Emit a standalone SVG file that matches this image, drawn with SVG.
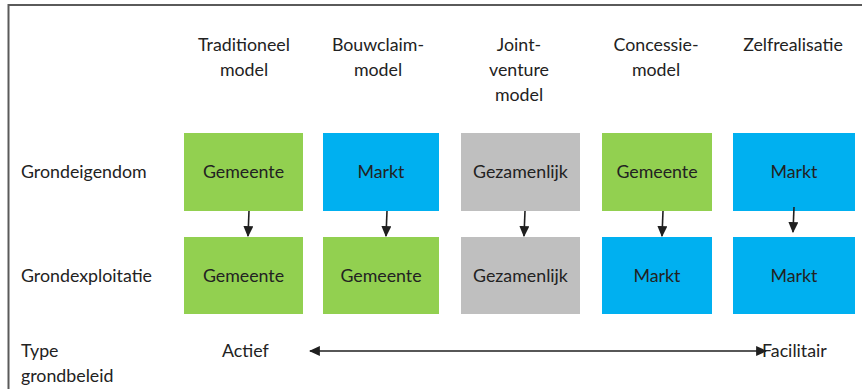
<svg xmlns="http://www.w3.org/2000/svg" width="862" height="389" viewBox="0 0 862 389">
  <style>
    text { font-family: Lato, "Liberation Sans", sans-serif; font-size: 17.8px; fill: #222222; }
    .c { text-anchor: middle; }
    .green { fill: #92D050; }
    .blue { fill: #00B0F0; }
    .grey { fill: #BFBFBF; }
    .link { stroke: #1f1f1f; stroke-width: 1.6; fill: none; }
    .frame { stroke: #5a5a5a; stroke-width: 2; fill: none; }
  </style>
  <defs>
    <marker id="head" viewBox="0 0 10 10" refX="9" refY="5" markerWidth="11" markerHeight="10" markerUnits="userSpaceOnUse" orient="auto-start-reverse" preserveAspectRatio="none">
      <path d="M0,0 L10,5 L0,10 Z" fill="#1f1f1f"/>
    </marker>
  </defs>

  <rect width="862" height="389" fill="#ffffff"/>
  <path class="frame" d="M8.5,389 V5 H862"/>

  <!-- column headings -->
  <g id="headings">
    <text class="c" x="244" y="51">Traditioneel</text>
    <text class="c" x="244" y="76">model</text>
    <text class="c" x="378" y="51">Bouwclaim-</text>
    <text class="c" x="378" y="76">model</text>
    <text class="c" x="519" y="51">Joint-</text>
    <text class="c" x="519" y="76">venture</text>
    <text class="c" x="519" y="101">model</text>
    <text class="c" x="656" y="51">Concessie-</text>
    <text class="c" x="656" y="76">model</text>
    <text class="c" x="793" y="51">Zelfrealisatie</text>
  </g>

  <!-- row labels -->
  <g id="row-labels">
    <text x="21" y="178">Grondeigendom</text>
    <text x="21" y="282">Grondexploitatie</text>
    <text x="21" y="357">Type</text>
    <text x="21" y="382">grondbeleid</text>
  </g>

  <!-- ownership row -->
  <g id="own-1"><rect class="green" x="184" y="133" width="119" height="78"/><text class="c" x="243.5" y="178">Gemeente</text></g>
  <g id="own-2"><rect class="blue" x="323" y="133" width="116" height="78"/><text class="c" x="381" y="178">Markt</text></g>
  <g id="own-3"><rect class="grey" x="461" y="133" width="119" height="78"/><text class="c" x="520.5" y="178">Gezamenlijk</text></g>
  <g id="own-4"><rect class="green" x="602" y="133" width="110" height="78"/><text class="c" x="657" y="178">Gemeente</text></g>
  <g id="own-5"><rect class="blue" x="733" y="133" width="122" height="78"/><text class="c" x="794" y="178">Markt</text></g>

  <!-- exploitation row -->
  <g id="exp-1"><rect class="green" x="184" y="237" width="119" height="77"/><text class="c" x="243.5" y="282">Gemeente</text></g>
  <g id="exp-2"><rect class="green" x="323" y="237" width="116" height="77"/><text class="c" x="381" y="282">Gemeente</text></g>
  <g id="exp-3"><rect class="grey" x="461" y="237" width="119" height="77"/><text class="c" x="520.5" y="282">Gezamenlijk</text></g>
  <g id="exp-4"><rect class="blue" x="602" y="237" width="110" height="77"/><text class="c" x="657" y="282">Markt</text></g>
  <g id="exp-5"><rect class="blue" x="733" y="237" width="122" height="77"/><text class="c" x="794" y="282">Markt</text></g>

  <!-- policy scale -->
  <g id="policy">
    <text x="222" y="357">Actief</text>
    <text x="762" y="357">Facilitair</text>
  </g>

  <!-- connectors -->
  <g id="connectors">
    <path class="link" d="M249,211 L248,236" marker-end="url(#head)"/>
    <path class="link" d="M387,211 L386,236" marker-end="url(#head)"/>
    <path class="link" d="M525,211 L524,236" marker-end="url(#head)"/>
    <path class="link" d="M663,211 L662,236" marker-end="url(#head)"/>
    <path class="link" d="M794,207 L793,232" marker-end="url(#head)"/>
    <path class="link" d="M310,351 H766" marker-start="url(#head)" marker-end="url(#head)"/>
  </g>
</svg>
